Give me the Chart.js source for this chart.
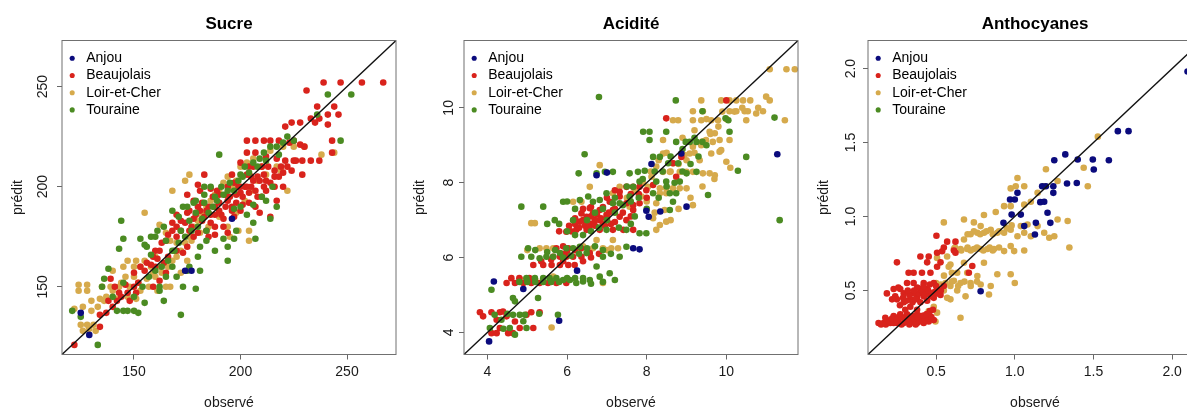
<!DOCTYPE html>
<html>
<head>
<meta charset="utf-8">
<script src="https://cdn.jsdelivr.net/npm/chart.js@4.4.0/dist/chart.umd.min.js"></script>
<style>
  html, body { margin: 0; padding: 0; background: #fff; overflow: hidden; width: 1187px; height: 407px; }
  canvas { position: absolute; top: 0; }
</style>
</head>
<body>
<canvas id="sucre" width="402" height="420" style="left:0px"></canvas>
<canvas id="acidite" width="402" height="420" style="left:402px"></canvas>
<canvas id="antho" width="402" height="420" style="left:806px"></canvas>
<script>
// légende commune
const varieties = ["Anjou", "Beaujolais", "Loir-et-Cher", "Touraine"];
const colors = ["#0b0b7d", "#d9231c", "#d6aa4c", "#4b8b22"];
// ordre de superposition (1 = dessus)
const drawOrder = [1, 3, 4, 2];

// graduations
const sucreRange = [116.2, 273];
const sucreTicks = [150, 200, 250];
const aciditeRange = [3.41, 11.8];
const aciditeTicks = [4, 6, 8, 10];
const anthoRange = [0.067, 2.19];
const anthoTicks = [0.5, 1.0, 1.5, 2.0];

/* Sucre : [observé, prédit] */
const sucreAnjou = [[125,137],[129,126],[174,158],[177,158],[196,184]];
const sucreBeaujolais = [
  [239,252],[247,252],[257,252],[267,252],[231,248],[236,240],[244,240],[241,236],[246,236],[233,234],
  [237,234],[241,231],[221,230],[224,232],[228,232],[235,232],[223,222],[225,223],[228,221],[230,220],
  [218,223],[214,223],[211,223],[207,223],[203,223],[243,223],[243,217],[229,206],[207,217],[203,217],
  [212,215],[217,214],[221,213],[225,213],[229,213],[233,213],[237,213],
  [180,201],[189,198],[197,202],[203,206],[206,210],[200,197],[194,193],[188,190],[181,188],[175,187],
  [172,183],[168,178],[165,173],[162,168],[159,165],[156,162],[153,160],[150,157],[147,147],[142,143],
  [137,137],[134,130],[122,121],[209,187],[214,185],[217,193],[220,200],[211,200],[194,177],[185,175],
  [175,170],[173,167],[197,185],[204,197],[207,190],[183,185],[188,180],[196,190],[201,191],[206,203],
  [211,206],[216,208],[212,203],[178,193],[175,196],[181,198],[183,206],[176,178],[180,177],[165,157],
  [162,153],[159,150],[151,147],[148,143],[143,147],[141,150],[139,154],[161,164],
  [186,186],[190,188],[192,184],[185,190],[178,184],[170,180],[200,200],[198,196],[202,200],[208,205],
  [210,210],[213,210],[216,205],[219,210],[205,200],[193,196],[187,195],
  [170,175],[172,178],[174,182],[177,180],[179,186],[182,183],[184,188],[186,182],[188,186],[190,192],
  [191,186],[193,190],[195,195],[196,188],[198,192],[199,200],[201,195],[203,200],[205,205],[207,198],
  [209,203],[210,195],[212,198],[214,202],[216,200],[218,205],[220,207],[222,210],[224,208],[226,213],
  [204,210],[200,212],[196,206],[194,200],[190,196],[186,199],[182,192],[180,190],[176,188],[170,186],
  [168,182],[166,176],[163,172],[160,168],[158,161],[155,158],[152,152],[150,150],[146,151],[144,145],
  [140,140],[138,143],[134,136],[160,160],[164,162],[166,165],[170,168],[178,175],[184,178],[188,176],
  [192,180],[200,188],[204,192],[208,195]
];
const sucreLoir = [
  [124,151],[128,151],[124,148],[128,148],[125,131],[128,131],[131,131],[126,128],[129,129],[132,128],
  [122,139],[130,143],[134,144],[137,145],[142,144],[147,145],[151,144],[135,150],[139,150],[143,150],
  [148,150],[153,148],[157,150],[161,148],[165,150],[147,163],[151,163],[155,163],[153,160],[158,160],
  [162,160],[159,157],[167,150],[172,157],[175,163],[177,173],[181,177],[185,180],[190,185],[194,180],
  [198,187],[202,193],[205,198],[208,203],[212,206],[217,210],[219,208],[222,198],[220,220],[225,220],
  [230,220],[238,216],[244,217],[155,187],[162,181],[165,177],[167,173],[176,206],[174,203],[168,198],
  [195,175],[199,178],[204,178],[204,173],
  [126,140],[130,138],[133,140],[136,143],[140,148],[144,152],[146,155],[150,155],[152,152],[156,154],
  [160,155],[163,157],[166,160],[168,163],[170,165],[172,168],[174,172],[176,175],[178,180],[180,183],
  [182,186],[184,190],[186,193],[188,196],[190,198],[192,202],[194,205],[196,200],[198,203],[200,210],
  [203,212],[206,214],[210,210],[214,218],[170,172],[160,165],[150,160],[145,160],[140,158]
];
const sucreTouraine = [
  [133,121],[121,138],[125,135],[142,138],[145,138],[147,138],[150,138],[152,137],[172,136],[164,143],
  [162,148],[173,150],[179,149],[175,158],[181,158],[136,154],[138,159],[143,169],[145,152],[145,174],
  [153,174],[158,175],[161,178],[165,173],[168,168],[172,178],[176,183],[179,187],[183,192],[188,195],
  [191,200],[195,202],[200,206],[202,210],[208,210],[212,213],[218,216],[225,223],[222,225],[252,246],
  [241,246],[247,223],[190,216],[144,183],[173,190],[179,193],[183,200],[194,170],[197,174],[207,174],
  [214,184],[217,190],[212,193],[206,191],[194,163],[184,173],[181,170],[184,178],[197,189],[168,160],
  [165,155],[158,166],[155,171],[236,236],
  [150,145],[154,150],[157,155],[160,158],[163,160],[166,163],[169,168],[171,172],[174,175],[177,178],
  [180,180],[182,184],[185,187],[187,190],[189,193],[192,196],[194,198],[197,198],[199,203],[201,205],
  [204,207],[206,212],[209,214],[211,217],[214,220],[217,220],[220,222],[186,200],[183,196],[178,192],
  [175,190],[171,185],[168,188],[164,180],[160,175],[156,170],[200,190],[203,186],[210,195],[215,200],
  [206,182],[198,178],[192,174],[188,168],[180,165],[176,160],[170,155],[162,150],[155,142],[140,145],
  [135,150]
];

/* Acidité */
const aciditeAnjou = [
  [4.04,3.76],[4.16,5.36],[4.90,5.16],[5.80,4.31],[6.25,5.65],[6.74,8.20],[7.00,8.27],[7.66,6.25],
  [7.82,6.22],[7.99,7.25],[8.05,7.09],[8.34,7.23],[8.12,8.50],[8.87,8.78],[9.00,7.36],[11.28,8.76]
];
const aciditeBeaujolais = [
  [3.81,4.54],[4.10,4.54],[4.31,4.54],[4.48,4.43],[4.69,4.29],[4.98,4.47],[5.10,4.54],[5.31,4.54],
  [4.10,3.98],[4.23,3.98],[4.52,3.98],[4.64,3.98],[4.31,4.12],[4.81,4.12],[5.15,4.12],[3.89,4.43],
  [4.23,4.34],[4.39,4.56],
  [4.48,5.32],[4.69,5.32],[4.90,5.32],[5.10,5.32],[5.31,5.32],[5.52,5.32],[5.73,5.32],[5.98,5.32],
  [5.15,5.80],[5.40,5.80],[5.61,5.80],[5.82,5.80],[6.03,5.80],[6.19,5.80],
  [5.82,6.02],[5.98,6.02],[6.15,6.02],[6.36,6.02],[5.73,6.25],[6.03,6.25],[5.65,6.02],[6.57,6.12],
  [5.98,6.69],[6.23,6.74],[6.49,6.74],[6.82,6.74],[7.15,6.74],[7.41,6.74],[7.66,6.74],
  [6.32,6.96],[6.49,7.09],[6.65,7.18],[6.82,7.00],[6.99,7.14],[7.15,7.27],[6.82,7.27],[6.57,7.32],
  [6.36,7.18],[7.32,7.09],[7.49,7.00],[7.66,7.27],
  [7.07,7.49],[7.32,7.63],[7.49,7.45],[7.66,7.40],[7.82,7.45],[7.32,7.76],[7.49,7.89],[7.66,7.89],
  [7.99,7.80],[8.16,7.94],[7.82,7.89],
  [8.49,9.72],[10.00,10.20],[8.87,8.69],[8.74,8.16],[8.66,8.52],
  [6.60,6.90],[6.70,7.00],[6.90,6.90],[7.00,7.05],[6.45,6.85],[6.20,6.90],[7.10,6.90],[6.60,7.10],
  [6.75,7.15],[6.10,6.70],[6.00,6.15],[5.90,6.30],
  [4.60,5.45],[4.80,5.45],[5.05,5.45],[6.30,6.80],[6.40,7.00],[6.50,6.95],[6.55,6.80],[6.70,6.85],
  [6.85,7.05],[6.95,6.85],[7.05,7.20],[7.20,6.95],[6.40,7.30],[6.60,7.35],[6.90,7.35],[7.20,7.30],
  [6.20,7.05],[6.05,6.85],[5.80,6.70],[6.35,6.25],[6.20,6.20],[5.90,5.90],[5.60,5.95],[5.35,5.90],
  [5.90,6.10],[6.40,5.90],[6.60,6.00],[6.80,6.10],[7.00,7.60],[7.20,7.80],[7.60,7.70],[7.80,7.70],
  [8.00,7.60],[7.40,7.20],[7.60,7.10]
];
const aciditeLoir = [
  [11.09,11.03],[11.51,11.03],[11.72,11.03],[11.09,10.20],[9.87,10.20],[10.08,10.20],[10.25,10.20],
  [10.42,10.20],[10.25,9.91],[10.08,9.91],[10.46,9.91],[10.54,9.91],[10.75,9.85],[10.92,9.91],
  [11.47,9.67],[9.37,10.20],[9.16,9.91],[9.41,9.91],[9.16,9.67],[9.37,9.67],[9.62,9.67],[9.79,9.67],
  [10.50,9.67],[8.66,9.67],[8.79,9.67],[9.58,9.36],[9.71,9.32],[9.49,9.14],[9.66,9.09],[9.83,9.14],
  [10.08,9.14],[9.62,8.78],[9.83,8.83],[9.87,8.87],[10.00,8.56],[9.33,8.60],[9.08,8.78],[8.95,8.74],
  [8.41,9.14],[8.41,8.78],[8.66,8.52],[8.24,8.43],[8.41,8.29],[8.58,8.29],[8.83,8.29],[9.00,8.29],
  [9.16,8.29],[9.41,8.25],[9.58,8.25],[9.71,8.20],[8.12,8.16],[8.33,7.85],[8.49,7.85],[8.66,7.85],
  [8.83,7.85],[9.00,7.85],[8.33,7.72],[8.49,7.72],[8.24,7.45],[8.45,7.27],[8.16,7.05],[8.33,6.87],
  [8.49,6.96],[8.24,6.74],[8.03,7.89],[7.87,7.63],[9.16,7.40],[9.37,9.00],[9.16,8.96],[6.57,7.89],
  [6.15,7.49],[6.36,7.49],[6.82,8.47],[5.10,6.92],[5.19,6.92],[5.65,6.25],[5.31,6.25],[5.48,6.25],
  [6.65,6.25],[6.90,6.25],[7.11,6.25],[7.28,6.25],[6.36,6.25],[6.74,6.47],[7.15,6.47],[6.90,5.32],
  [5.65,5.49],[5.61,4.13],[7.57,7.36],[7.32,7.89],[7.15,7.72],
  [8.60,8.30],[8.80,8.50],[9.00,8.60],[9.20,8.80],[9.40,9.10],[9.60,9.30],[9.80,9.50],[10.00,9.70],
  [10.20,9.90],[10.40,10.00],[10.60,10.20],[10.80,10.00],[11.00,10.30],[9.90,9.90],[9.50,9.70],
  [9.20,9.40],[8.90,9.20],[8.50,8.80],[8.30,8.60],[8.10,8.30],[7.90,8.00],[7.70,7.80],[7.50,7.60],
  [8.00,7.50],[8.20,7.20],[8.60,7.00],[8.80,7.30],[9.10,7.60],[9.40,7.90],[9.70,8.10],[10.10,8.40],
  [6.40,6.30],[6.20,6.20],[7.00,6.20],[5.00,6.20],[4.90,5.40],[5.20,5.40]
];
const aciditeTouraine = [
  [6.80,10.29],[8.73,10.20],[9.40,9.91],[9.98,9.72],[10.05,9.67],[11.21,9.74],[10.08,9.36],[9.40,9.09],
  [9.25,9.09],[9.08,9.09],[8.98,9.09],[8.74,9.09],[8.49,9.36],[8.07,9.36],[7.91,9.36],[8.07,9.14],
  [10.50,8.69],[10.29,8.32],[9.54,7.67],[11.34,7.00],[6.44,8.76],[6.29,8.25],[6.74,8.25],[6.95,8.29],
  [7.15,8.29],[7.57,8.25],[7.78,8.29],[7.95,8.32],[8.16,8.69],[8.33,8.69],[8.54,8.52],[8.79,8.52],
  [9.00,8.25],[9.25,8.29],[8.83,8.03],[8.49,8.03],[8.24,8.03],[8.74,7.72],[8.58,7.72],[8.16,7.72],
  [8.66,7.49],[8.58,7.27],[7.66,7.89],[7.82,8.03],[7.57,7.63],[7.32,7.45],[7.15,7.45],[6.99,7.72],
  [6.82,7.54],[6.65,7.49],[6.53,7.63],[6.32,7.54],[6.15,7.00],[5.90,7.49],[5.69,7.00],[5.40,7.36],
  [4.85,7.36],[6.99,6.74],[7.49,6.74],[7.82,6.65],[7.99,6.65],[7.49,6.29],[6.90,6.02],[6.74,5.76],
  [6.49,6.12],[6.32,6.29],[6.15,6.25],[5.98,6.25],[5.82,6.12],[5.65,6.02],[5.48,6.02],[5.31,5.98],
  [5.10,6.02],[5.02,6.25],[4.85,6.02],[6.57,5.40],[6.40,5.36],[6.23,5.32],[6.07,5.40],[5.90,5.40],
  [5.73,5.45],[5.56,5.45],[5.40,5.45],[5.19,5.45],[4.98,5.45],[7.20,5.40],[6.82,5.49],[7.07,5.58],
  [4.10,5.14],[5.27,4.92],[4.64,4.92],[4.69,4.83],[4.06,4.12],[4.18,4.47],[4.35,4.34],[4.64,4.47],
  [4.81,4.47],[4.94,4.47],[4.56,4.12],[4.69,3.94],[4.98,4.12],[5.77,4.47],[7.32,6.02],
  [5.20,5.35],[5.40,5.35],[5.60,5.35],[5.80,5.35],[6.00,5.45],[6.20,5.45],[6.40,5.45],[6.60,5.30],
  [6.90,5.35],[4.80,5.35],[5.00,5.35],[5.70,6.20],[5.90,6.00],[6.10,6.05],[6.30,6.10],[6.50,6.25],
  [6.70,6.30],[6.90,6.20],[7.10,6.10],[5.50,6.15],[5.20,6.20],[6.00,6.70],[6.20,6.60],[6.40,6.60],
  [6.60,6.70],[6.80,6.80],[7.00,7.00],[7.20,7.20],[7.40,7.40],[7.60,7.50],[7.80,7.60],[7.30,6.80],
  [7.60,6.90],[7.70,7.10],[8.00,7.30],[8.30,7.60],[8.50,7.90],[8.70,8.00],[8.90,8.30],[9.10,8.50],
  [9.30,8.70],[9.50,9.00],[9.20,9.20],[8.90,8.90],[8.60,8.70],[8.40,8.30],[8.20,8.30],[7.90,8.10],
  [7.50,7.90],[7.20,7.60],[6.90,7.30],[6.70,7.20],[6.50,7.00],[6.20,7.30],[6.00,7.50],[5.80,6.90],
  [5.50,6.90],[4.40,4.10],[4.50,4.50],[4.90,4.30],[5.30,4.50]
];

/* Anthocyanes */
const anthoAnjou = [
  [2.098,1.98],[1.655,1.577],[1.723,1.577],[1.321,1.42],[1.251,1.38],[1.40,1.385],[1.496,1.385],
  [1.598,1.38],[1.502,1.318],[1.332,1.223],[1.394,1.227],[1.174,1.205],[1.198,1.205],[1.245,1.205],
  [1.245,1.16],[1.187,1.10],[1.162,1.097],[1.017,1.16],[1.00,1.115],[0.97,1.115],[0.98,1.013],
  [1.038,1.013],[1.208,1.025],[0.928,0.957],[1.06,0.935],[1.134,0.957],[1.226,0.957],[1.128,0.878],
  [0.783,0.495]
];
const anthoBeaujolais = [
  [0.134,0.28],[0.166,0.28],[0.209,0.28],[0.251,0.28],[0.294,0.28],[0.336,0.28],[0.379,0.28],
  [0.421,0.28],[0.453,0.29],[0.177,0.315],[0.230,0.327],[0.272,0.338],[0.315,0.338],[0.357,0.327],
  [0.40,0.327],[0.443,0.315],[0.209,0.30],[0.251,0.315],[0.336,0.30],[0.379,0.338],[0.485,0.30],
  [0.294,0.42],[0.336,0.44],[0.379,0.45],[0.421,0.46],[0.464,0.48],[0.506,0.51],[0.549,0.53],
  [0.336,0.39],[0.40,0.42],[0.443,0.43],[0.485,0.45],[0.528,0.47],[0.304,0.37],[0.379,0.37],
  [0.251,0.44],[0.357,0.48],[0.40,0.51],[0.443,0.51],[0.485,0.55],[0.421,0.55],[0.357,0.55],
  [0.315,0.55],[0.357,0.62],[0.41,0.62],[0.464,0.62],[0.325,0.62],[0.251,0.69],[0.40,0.73],
  [0.453,0.73],[0.506,0.66],[0.506,0.755],[0.538,0.765],[0.502,0.87],[0.57,0.83],[0.623,0.83],
  [0.549,0.79],[0.613,0.77],[0.623,0.755],[0.73,0.665],[0.708,0.62],[0.528,0.69],[0.443,0.69],
  [0.187,0.48],[0.23,0.51],[0.272,0.51],[0.294,0.48],
  [0.15,0.27],[0.18,0.27],[0.20,0.29],[0.23,0.28],[0.26,0.29],[0.28,0.27],[0.31,0.29],[0.33,0.27],
  [0.35,0.29],[0.37,0.27],[0.39,0.30],[0.41,0.29],[0.43,0.30],[0.45,0.31],[0.47,0.32],[0.22,0.31],
  [0.25,0.30],[0.28,0.32],[0.30,0.31],[0.32,0.33],[0.34,0.32],[0.36,0.31],[0.38,0.32],[0.42,0.33],
  [0.44,0.34],[0.46,0.36],[0.48,0.37],[0.27,0.40],[0.29,0.45],[0.31,0.43],[0.33,0.47],[0.35,0.42],
  [0.37,0.44],[0.39,0.48],[0.41,0.50],[0.43,0.47],[0.45,0.50],[0.47,0.46],[0.49,0.49],[0.51,0.48],
  [0.53,0.50],[0.38,0.52],[0.42,0.53],[0.46,0.54],[0.50,0.53],[0.32,0.50],[0.36,0.50],[0.24,0.46],
  [0.22,0.44],[0.26,0.52]
];
const anthoLoir = [
  [1.528,1.54],[1.438,1.33],[1.272,1.24],[1.464,1.205],[1.198,1.32],[1.017,1.26],[1.06,1.205],
  [1.006,1.205],[0.974,1.19],[1.187,1.205],[1.145,1.16],[1.102,1.10],[1.06,1.08],[0.974,1.07],
  [0.932,1.07],[0.879,1.03],[0.804,1.01],[0.677,0.98],[0.549,0.96],[0.74,0.96],[0.783,0.935],
  [0.847,0.91],[0.889,0.89],[0.932,0.89],[0.974,0.91],[1.038,0.935],[1.081,0.946],[1.145,0.935],
  [1.187,0.89],[1.102,0.867],[1.06,0.89],[1.017,0.867],[1.251,0.867],[1.219,0.856],[1.336,0.97],
  [1.347,0.79],[1.272,0.98],[0.762,0.89],[0.804,0.89],[0.719,0.88],[0.677,0.845],[0.613,0.78],
  [0.655,0.78],[0.698,0.78],[0.74,0.78],[0.783,0.78],[0.826,0.78],[0.868,0.78],[0.932,0.766],
  [0.996,0.766],[1.06,0.77],[0.974,0.80],[0.57,0.73],[0.506,0.72],[0.591,0.676],[0.677,0.687],
  [0.804,0.687],[0.889,0.61],[0.974,0.61],[1.0,0.55],[0.762,0.597],[0.698,0.62],[0.634,0.62],
  [0.613,0.565],[0.655,0.55],[0.719,0.55],[0.783,0.54],[0.847,0.53],[0.687,0.46],[0.549,0.50],
  [0.591,0.53],[0.634,0.50],[0.836,0.473],[0.655,0.315],[0.496,0.29],[0.453,0.36],[0.506,0.35],
  [0.485,0.39],[0.591,0.44],[0.57,0.45],
  [0.62,0.79],[0.66,0.77],[0.70,0.79],[0.72,0.77],[0.76,0.79],[0.80,0.77],[0.84,0.79],[0.86,0.77],
  [0.90,0.79],[0.70,0.88],[0.74,0.90],[0.78,0.88],[0.82,0.90],[0.86,0.88],[0.90,0.90],[0.95,0.92],
  [0.98,0.94],[0.50,0.55],[0.53,0.54],[0.56,0.55],[0.60,0.56],[0.64,0.53],[0.68,0.56],[0.72,0.53],
  [0.76,0.56],[0.55,0.60],[0.60,0.62],[0.58,0.66]
];
const anthoTouraine = [];

Chart.defaults.font.family = "'Liberation Sans', Arial, sans-serif";
Chart.defaults.font.size = 14;
Chart.defaults.color = "#1a1a1a";

// cadre autour de la zone de tracé (box() de R)
const framePlugin = {
  id: "frame",
  afterDatasetsDraw(chart) {
    const a = chart.chartArea;
    const ctx = chart.ctx;
    ctx.save();
    ctx.strokeStyle = "#707070";
    ctx.lineWidth = 1;
    ctx.strokeRect(a.left, a.top, a.right - a.left, a.bottom - a.top);
    ctx.restore();
  }
};

function axis(range, ticks, decimals, label, isY) {
  return {
    type: "linear",
    min: range[0],
    max: range[1],
    bounds: "data",
    afterBuildTicks: (ax) => { ax.ticks = ticks.map((v) => ({ value: v })); },
    afterFit: (ax) => {
      if (isY) ax.width = 62;
      else ax.height = 65.5;
    },
    ticks: {
      autoSkip: false,
      padding: isY ? 2.5 : 4.6,
      minRotation: isY ? 90 : 0,
      maxRotation: isY ? 90 : 0,
      crossAlign: isY ? "center" : "near",
      color: "#1a1a1a",
      font: { size: 14 },
      callback: (v) => Number(v).toFixed(decimals),
    },
    grid: { drawOnChartArea: false, tickLength: 5, tickColor: "#666", color: "#666" },
    border: { display: false },
    title: {
      display: true,
      text: label,
      color: "#1a1a1a",
      font: { size: 14 },
      padding: isY ? { top: 9.9, bottom: 0 } : { top: 0, bottom: 8.3 },
    },
  };
}

function drawPanel(id, title, range, ticks, decimals, series) {
  const datasets = series.map((pairs, i) => ({
    label: varieties[i],
    data: pairs.map((p) => ({ x: p[0], y: p[1] })),
    backgroundColor: colors[i],
    borderColor: colors[i],
    borderWidth: 0,
    pointRadius: 3.3,
    pointHoverRadius: 3.3,
    order: drawOrder[i],
  }));
  // droite y = x
  datasets.push({
    label: "y = x",
    data: [{ x: range[0], y: range[0] }, { x: range[1], y: range[1] }],
    showLine: true,
    borderColor: "#111",
    borderWidth: 1.3,
    pointRadius: 0,
    order: 0,
  });

  new Chart(document.getElementById(id), {
    type: "scatter",
    data: { datasets: datasets },
    options: {
      responsive: false,
      animation: false,
      devicePixelRatio: 1,
      events: [],
      layout: { padding: { left: 0, right: 6, top: 0, bottom: 0 }, autoPadding: false },
      scales: {
        x: axis(range, ticks, decimals, "observé", false),
        y: axis(range, ticks, decimals, "prédit", true),
      },
      plugins: {
        title: {
          display: true,
          text: title,
          position: "top",
          fullSize: false,
          color: "#000",
          font: { size: 17, weight: "bold", lineHeight: 1 },
          padding: { top: 16, bottom: 7.5 },
        },
        legend: {
          // la légende "chartArea" démarre en haut du canvas : on la décale sous le titre
          position: "chartArea",
          align: "start",
          title: { display: true, text: " ", font: { size: 6, lineHeight: 1 }, padding: { top: 42.1, bottom: 0 } },
          labels: {
            usePointStyle: true,
            pointStyle: "circle",
            boxWidth: 17.6,
            boxHeight: 3.6,
            padding: 3.2,
            color: "#000",
            font: { size: 14 },
            filter: (item) => item.datasetIndex < 4,
            sort: (a, b) => a.datasetIndex - b.datasetIndex,
          },
        },
        tooltip: { enabled: false },
      },
    },
    plugins: [framePlugin],
  });
}

drawPanel("sucre", "Sucre", sucreRange, sucreTicks, 0,
  [sucreAnjou, sucreBeaujolais, sucreLoir, sucreTouraine]);
drawPanel("acidite", "Acidité", aciditeRange, aciditeTicks, 0,
  [aciditeAnjou, aciditeBeaujolais, aciditeLoir, aciditeTouraine]);
drawPanel("antho", "Anthocyanes", anthoRange, anthoTicks, 1,
  [anthoAnjou, anthoBeaujolais, anthoLoir, anthoTouraine]);
</script>
</body>
</html>
